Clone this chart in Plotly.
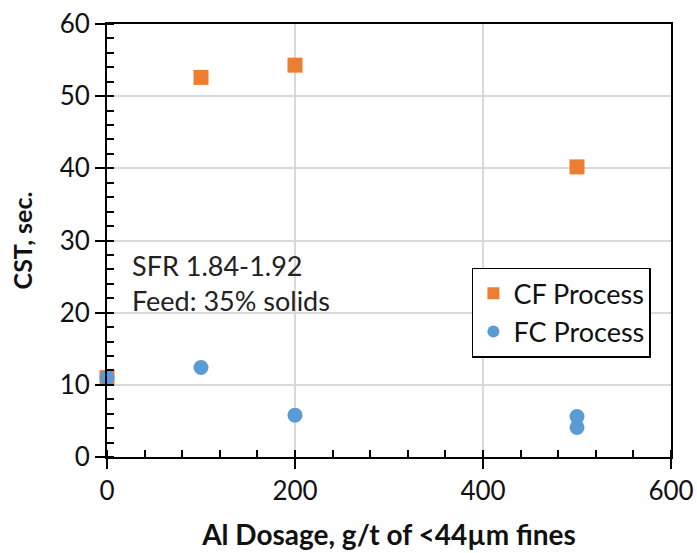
import plotly.graph_objects as go

cf_x = [0, 100, 200, 500]
cf_y = [11.0, 52.6, 54.3, 40.2]
fc_x = [0, 100, 200, 500, 500]
fc_y = [11.0, 12.4, 5.8, 5.6, 4.1]

FONT = "Lato"

fig = go.Figure()
fig.add_trace(go.Scatter(x=cf_x, y=cf_y, mode="markers", name="CF Process", cliponaxis=False,
                         marker=dict(symbol="square", size=15, color="#ED7D31")))
fig.add_trace(go.Scatter(x=fc_x, y=fc_y, mode="markers", name="FC Process", cliponaxis=False,
                         marker=dict(symbol="circle", size=15, color="#5B9BD5")))

fig.update_layout(
    width=697, height=553,
    margin=dict(l=107, r=26, t=24, b=96, autoexpand=False),
    paper_bgcolor="white", plot_bgcolor="white",
    font=dict(family=FONT, size=25, color="#111"),
    showlegend=True,
    legend=dict(x=0.647, y=0.437, xanchor="left", yanchor="top",
                bordercolor="black", borderwidth=1.5, bgcolor="white",
                font=dict(family=FONT, size=27, color="#111"),
                itemsizing="constant", tracegroupgap=0),
    xaxis=dict(range=[0, 600], tickvals=[0, 200, 400, 600], showgrid=True,
               gridcolor="#D9D9D9", gridwidth=1.5, zeroline=False, automargin=False,
               showline=True, linecolor="black", linewidth=2, mirror=True,
               ticks="outside", ticklen=10, tickwidth=1.5, tickcolor="black",
               minor=dict(dtick=40, ticks="inside", ticklen=7, tickwidth=1.5,
                          tickcolor="black", showgrid=False),
               title=dict(text="<b>Al Dosage, g/t of &lt;44µm fines</b>", standoff=20,
                          font=dict(family=FONT, size=28)),
               tickfont=dict(family=FONT, size=26)),
    yaxis=dict(range=[0, 60], dtick=10, showgrid=True,
               gridcolor="#D9D9D9", gridwidth=1.5, zeroline=False, automargin=False,
               showline=True, linecolor="black", linewidth=2, mirror=True,
               ticks="outside", ticklen=10, tickwidth=1.5, tickcolor="black",
               minor=dict(dtick=2, ticks="inside", ticklen=7, tickwidth=1.5,
                          tickcolor="black", showgrid=False),
               title=dict(text="<b>CST, sec.</b>", standoff=20,
                          font=dict(family=FONT, size=25)),
               tickfont=dict(family=FONT, size=26)),
)
fig.add_annotation(x=0.04, y=(457 - 265) / 433, xref="paper", yref="paper", showarrow=False,
                   text="SFR 1.84-1.92", xanchor="left", yanchor="middle",
                   font=dict(family=FONT, size=27, color="#222"))
fig.add_annotation(x=0.04, y=(457 - 300) / 433, xref="paper", yref="paper", showarrow=False,
                   text="Feed: 35% solids", xanchor="left", yanchor="middle",
                   font=dict(family=FONT, size=27, color="#222"))

fig.write_html("out.html", config={"displayModeBar": False},
               post_script="document.body.style.margin='0';document.body.style.padding='0';")
